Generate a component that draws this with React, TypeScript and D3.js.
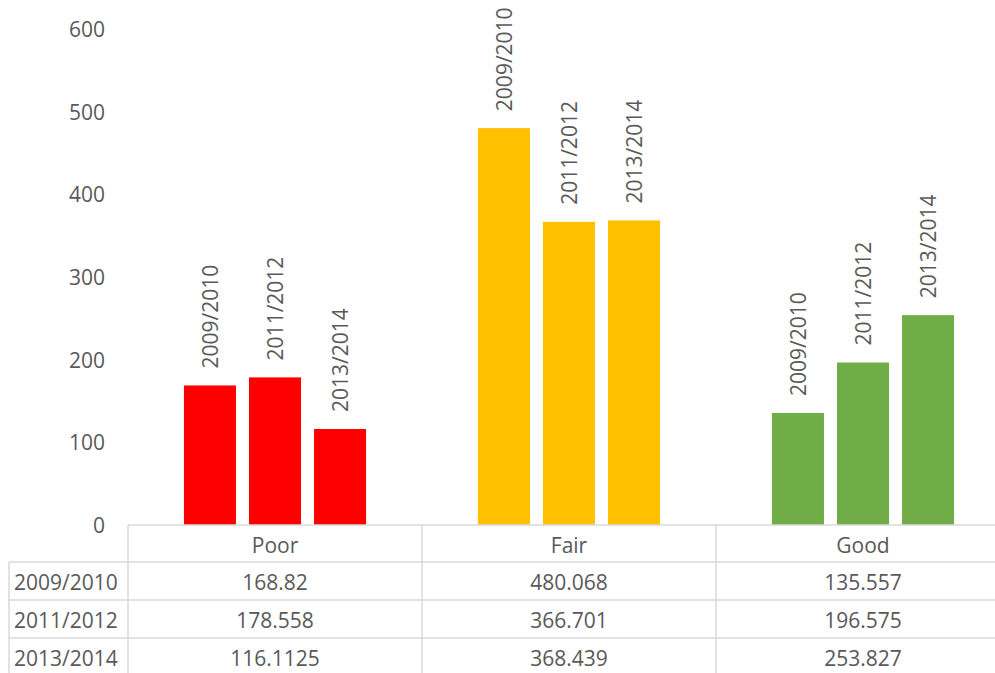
import React from 'react';
import * as d3 from 'd3';

const categories = ['Poor', 'Fair', 'Good'];
const seriesNames = ['2009/2010', '2011/2012', '2013/2014'];
const values2009 = [168.82, 480.068, 135.557];
const values2011 = [178.558, 366.701, 196.575];
const values2013 = [116.1125, 368.439, 253.827];
const valueLabels2009 = ['168.82', '480.068', '135.557'];
const valueLabels2011 = ['178.558', '366.701', '196.575'];
const valueLabels2013 = ['116.1125', '368.439', '253.827'];
const categoryColors = ['#FF0000', '#FFC000', '#70AD47'];
const yTicks = [0, 100, 200, 300, 400, 500, 600];

const series = [
  { name: seriesNames[0], values: values2009, labels: valueLabels2009 },
  { name: seriesNames[1], values: values2011, labels: valueLabels2011 },
  { name: seriesNames[2], values: values2013, labels: valueLabels2013 },
];

const W = 995, H = 673;
const font = '"Open Sans", sans-serif';
const fs = 21;
const textColor = '#595959';
const lineColor = '#d9d9d9';

export default function App() {
  const x0 = d3.scaleBand<string>().domain(categories).range([128, 1010]);
  const x1 = d3.scaleBand<string>()
    .domain(seriesNames)
    .range([0, x0.bandwidth()])
    .paddingInner(0.2)
    .paddingOuter(0.86);
  const y = d3.scaleLinear().domain([0, 600]).range([525, 29]);
  const color = d3.scaleOrdinal<string, string>().domain(categories).range(categoryColors);

  const headerTop = y(0);
  const rowTops = [562, 600, 638];
  const rowH = 38;

  return (
    <svg width={W} height={H} style={{ position: 'absolute', left: 0, top: 0, background: '#fff' }}>
      {/* y axis labels */}
      {yTicks.map(t => (
        <text key={t} x={105} y={y(t)} textAnchor="end" dominantBaseline="central"
          fontFamily={font} fontSize={fs} fill={textColor}>{t}</text>
      ))}

      {/* bars + rotated series labels */}
      {categories.map((c, ci) => (
        <g key={c} transform={`translate(${x0(c)},0)`}>
          {series.map(s => {
            const bx = x1(s.name)!;
            const v = s.values[ci];
            const cx = bx + x1.bandwidth() / 2;
            return (
              <g key={s.name}>
                <rect x={bx} y={y(v)} width={x1.bandwidth()} height={y(0) - y(v)} fill={color(c)} />
                <text transform={`translate(${cx},${y(v) - 17}) rotate(-90)`} textAnchor="start"
                  dominantBaseline="central" fontFamily={font} fontSize={fs} fill={textColor}>{s.name}</text>
              </g>
            );
          })}
        </g>
      ))}

      {/* data table */}
      <g stroke={lineColor} strokeWidth={1.5} fill="none">
        <line x1={128} x2={W} y1={headerTop} y2={headerTop} />
        {rowTops.map(r => <line key={r} x1={9} x2={W} y1={r} y2={r} />)}
        <line x1={9} x2={9} y1={rowTops[0]} y2={H} />
        <line x1={128} x2={128} y1={headerTop} y2={H} />
        {categories.map(c => (
          <line key={c} x1={x0(c)! + x0.bandwidth()} x2={x0(c)! + x0.bandwidth()} y1={headerTop} y2={H} />
        ))}
      </g>
      {categories.map(c => (
        <text key={c} x={x0(c)! + x0.bandwidth() / 2} y={(headerTop + rowTops[0]) / 2 + 1} textAnchor="middle"
          dominantBaseline="central" fontFamily={font} fontSize={fs} fill={textColor}>{c}</text>
      ))}
      {series.map((s, si) => (
        <g key={s.name}>
          <text x={14} y={rowTops[si] + rowH / 2 + 1} dominantBaseline="central"
            fontFamily={font} fontSize={fs} fill={textColor}>{s.name}</text>
          {categories.map((c, ci) => (
            <text key={c} x={x0(c)! + x0.bandwidth() / 2} y={rowTops[si] + rowH / 2 + 1} textAnchor="middle"
              dominantBaseline="central" fontFamily={font} fontSize={fs} fill={textColor}>{s.labels[ci]}</text>
          ))}
        </g>
      ))}
    </svg>
  );
}
